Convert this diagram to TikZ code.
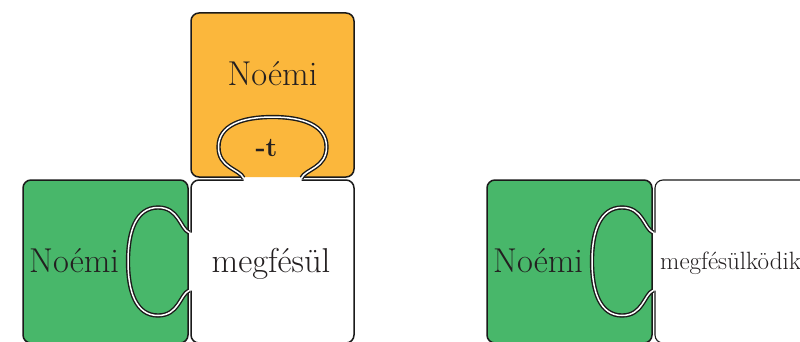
\documentclass[tikz,border=0pt]{standalone}
\usepackage{fontspec}
\definecolor{orangeA}{HTML}{FBB73C}
\definecolor{greenA}{HTML}{48B76A}
\definecolor{linec}{HTML}{1A1A1A}
\definecolor{txt}{HTML}{231F20}
\begin{document}
\begin{tikzpicture}[x=1pt,y=1pt,
  border/.style={line width=1.5pt, draw=linec, rounded corners=8pt},
  thinborder/.style={line width=1.1pt, draw=linec, rounded corners=8pt},
  knob/.style={line width=1.4pt, draw=linec, double=white, double distance=1.5pt},
  knobpic/.pic={\draw[knob] (-29,-1) .. controls (-33,8) and (-54,9) .. (-54,30)
      .. controls (-54,52) and (-30,60) .. (0,60)
      .. controls (30,60) and (54,52) .. (54,30)
      .. controls (54,9) and (33,8) .. (29,-1);},
  lbl/.style={font=\fontsize{34.5}{38}\selectfont, text=txt, inner sep=0pt, anchor=base},
  suf/.style={font=\fontsize{27}{30}\selectfont\bfseries, text=txt, inner sep=0pt, anchor=base},
  smalllbl/.style={font=\fontsize{25}{28}\selectfont, text=txt, inner sep=0pt, anchor=base west}]
\clip (0,0) rectangle (800,341);
\fill[white] (0,0) rectangle (800,341);
% ---------- orange piece (top)
\fill[orangeA, rounded corners=8pt] (191,328) rectangle (354,164);
\draw[border] (243.5,164) -- (191,164) -- (191,328) -- (354,328) -- (354,164) -- (301.5,164);
\pic[shift={(272.5,164)}] {knobpic};
% ---------- green pieces (left and right pair)
\foreach \dx in {0,464} {
  \begin{scope}[xshift=\dx pt]
    \fill[greenA, rounded corners=8pt] (23,161) rectangle (188,-2);
    \draw[border] (188,50.5) -- (188,161) -- (23,161) -- (23,-2) -- (188,-2) -- (188,108.5);
    \pic[shift={(188,79.5)}, rotate=90] {knobpic};
  \end{scope}
}
% left white piece
\draw[border] (191,108.5) -- (191,161) -- (243.5,161);
\draw[border] (301.5,161) -- (354,161) -- (354,-2) -- (191,-2) -- (191,50.5);
% right white piece
\draw[thinborder] (655,108.5) -- (655,161) -- (860,161);
\draw[thinborder] (655,50.5) -- (655,-2) -- (860,-2);
% ---------- texts
\node[lbl] (noemiO) at (272.5,256) {Noémi};
\node[suf] (suffix) at (266.5,185) {-t};
\node[lbl, anchor=base west] (noemiG) at (29,69) {Noémi};
\node[lbl] (verb) at (271,69) {megfésül};
\node[lbl, anchor=base west] (noemiR) at (493,69) {Noémi};
\node[smalllbl] (verbR) at (660,71.5) {megfésülködik};
\end{tikzpicture}
\end{document}
